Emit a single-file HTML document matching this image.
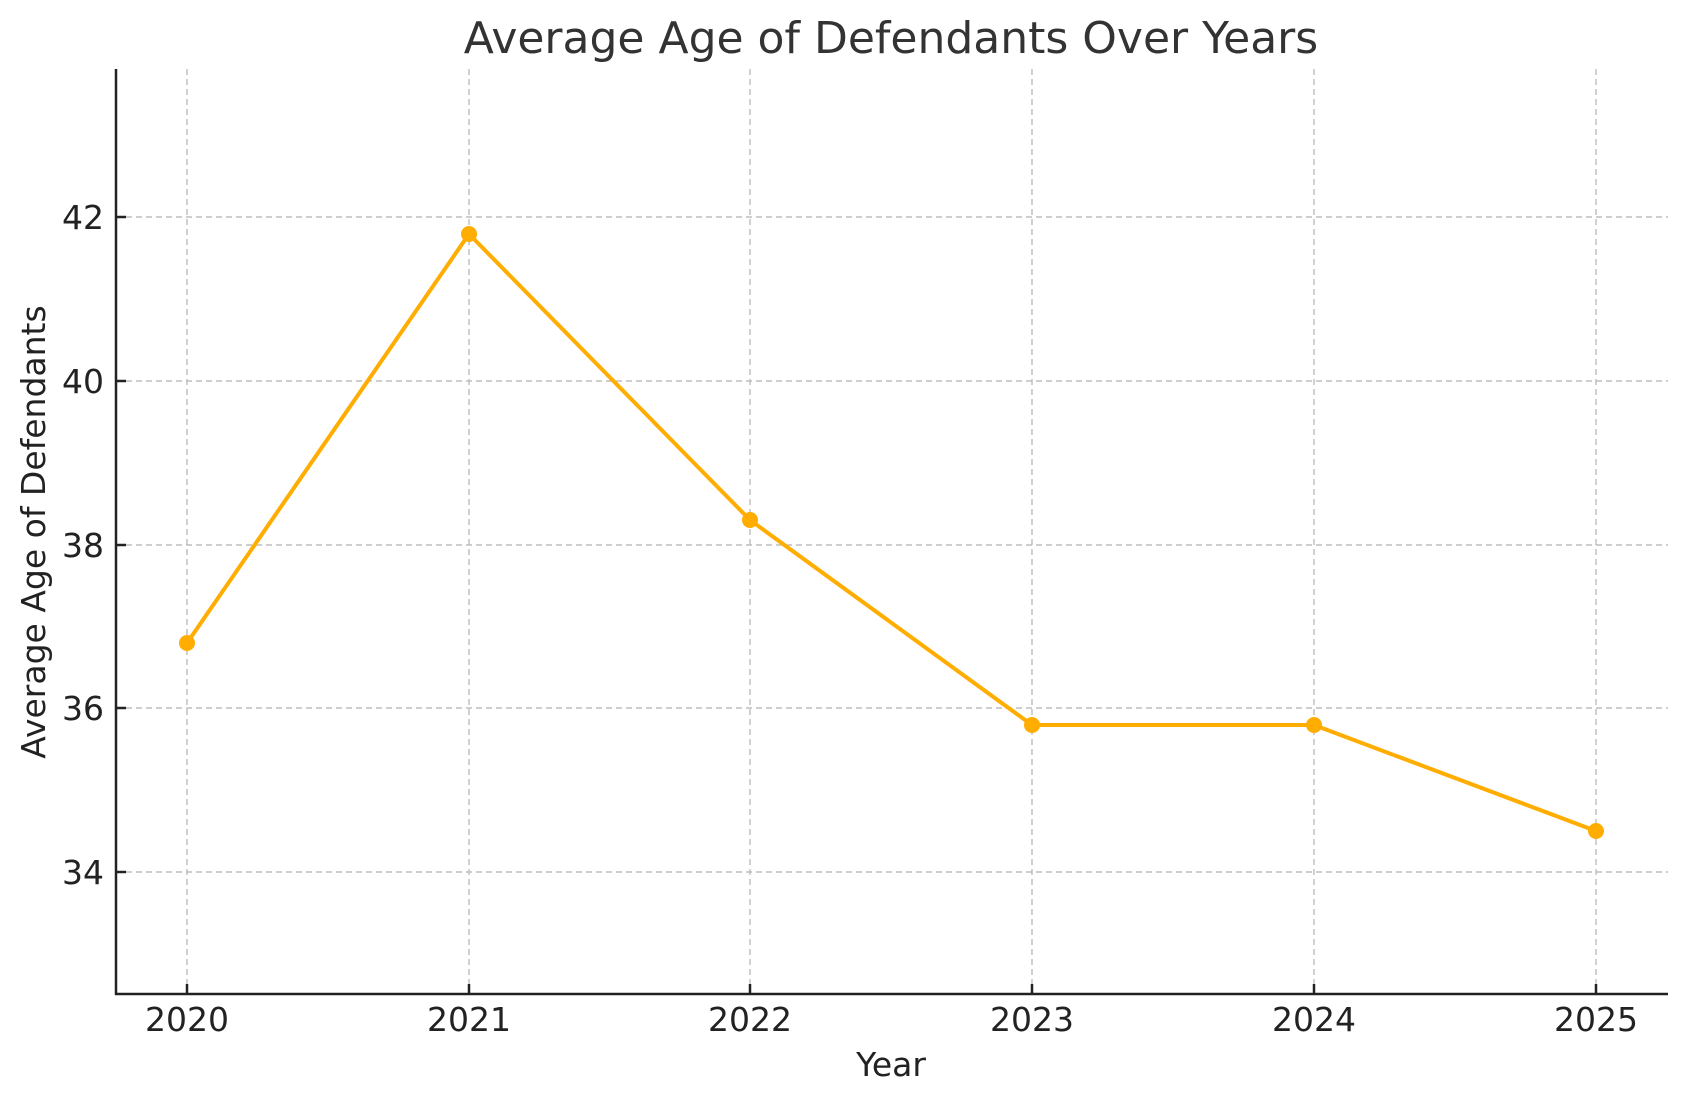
<!DOCTYPE html>
<html><head><meta charset="utf-8"><style>
html,body{margin:0;padding:0;background:#fff;}
svg{display:block;}
text{font-family:"DejaVu Sans","Liberation Sans",sans-serif;fill:#222;}
</style></head><body>
<svg width="1686" height="1101" viewBox="0 0 1686 1101" xmlns="http://www.w3.org/2000/svg">
<rect width="1686" height="1101" fill="#fff"/>
<g stroke="#bdbdbd" stroke-width="1.4" stroke-dasharray="6,4">
<line x1="187" y1="69" x2="187" y2="994"/>
<line x1="469" y1="69" x2="469" y2="994"/>
<line x1="750" y1="69" x2="750" y2="994"/>
<line x1="1032" y1="69" x2="1032" y2="994"/>
<line x1="1314" y1="69" x2="1314" y2="994"/>
<line x1="1596" y1="69" x2="1596" y2="994"/>
<line x1="116" y1="217" x2="1668" y2="217"/>
<line x1="116" y1="381" x2="1668" y2="381"/>
<line x1="116" y1="545" x2="1668" y2="545"/>
<line x1="116" y1="708" x2="1668" y2="708"/>
<line x1="116" y1="872" x2="1668" y2="872"/>
</g>
<g stroke="#222" stroke-width="2.5">
<line x1="116" y1="69" x2="116" y2="995"/>
<line x1="115" y1="994" x2="1668" y2="994"/>
<line x1="187" y1="994" x2="187" y2="984"/>
<line x1="469" y1="994" x2="469" y2="984"/>
<line x1="750" y1="994" x2="750" y2="984"/>
<line x1="1032" y1="994" x2="1032" y2="984"/>
<line x1="1314" y1="994" x2="1314" y2="984"/>
<line x1="1596" y1="994" x2="1596" y2="984"/>
<line x1="116" y1="217" x2="126" y2="217"/>
<line x1="116" y1="381" x2="126" y2="381"/>
<line x1="116" y1="545" x2="126" y2="545"/>
<line x1="116" y1="708" x2="126" y2="708"/>
<line x1="116" y1="872" x2="126" y2="872"/>
</g>
<polyline points="187,643 469,234 750,520 1032,725 1314,725 1596,831" fill="none" stroke="#ffad00" stroke-width="4" stroke-linejoin="round"/>
<g fill="#ffad00">
<circle cx="187" cy="643" r="8"/><circle cx="469" cy="234" r="8"/><circle cx="750" cy="520" r="8"/>
<circle cx="1032" cy="725" r="8"/><circle cx="1314" cy="725" r="8"/><circle cx="1596" cy="831" r="8"/>
</g>
<g font-size="33" text-anchor="middle">
<text x="187" y="1031">2020</text><text x="469" y="1031">2021</text><text x="750" y="1031">2022</text>
<text x="1032" y="1031">2023</text><text x="1314" y="1031">2024</text><text x="1596" y="1031">2025</text>
</g>
<g font-size="33" text-anchor="end">
<text x="104" y="229">42</text><text x="104" y="393">40</text><text x="104" y="557">38</text>
<text x="104" y="720">36</text><text x="104" y="884">34</text>
</g>
<text x="891" y="1076" font-size="33" text-anchor="middle">Year</text>
<text transform="translate(45,532) rotate(-90)" font-size="33" text-anchor="middle">Average Age of Defendants</text>
<text x="891" y="53" font-size="44" text-anchor="middle" style="fill:#333">Average Age of Defendants Over Years</text>
</svg>
</body></html>
